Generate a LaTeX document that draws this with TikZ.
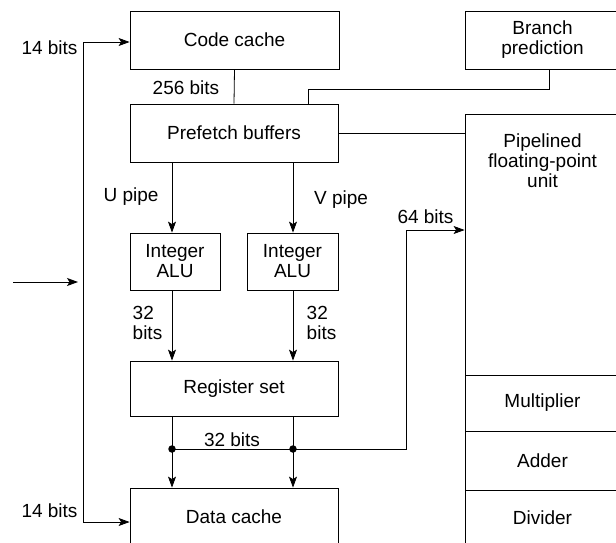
\documentclass[tikz,border=0pt]{standalone}
\usepackage{fontspec}
\setmainfont{Liberation Sans}
\usetikzlibrary{arrows.meta,positioning,calc}

\begin{document}
\begin{tikzpicture}[
  x=1pt, y=-1pt,
  line width=0.8pt,
  font=\fontsize{19}{20}\selectfont,
  blk/.style={draw, inner sep=0pt, align=center},
  arr/.style={-{Stealth[length=11pt,width=8pt,inset=2.5pt]}},
  lbl/.style={inner sep=0pt, align=left},
  dot/.style={circle, fill, inner sep=0pt, minimum size=7.5pt}
]
\useasboundingbox (0,0) rectangle (616,542);
\clip (0,0) rectangle (616,542);

% boxes of the pipeline
\node[blk, minimum width=209pt, minimum height=58pt] (cc) at (234.5,40) {Code cache};
\node[blk, minimum width=155pt, minimum height=58pt] (bp) at (542.5,40) {Branch\\prediction};
\node[blk, minimum width=208pt, minimum height=58pt] (pf) at (234,133) {Prefetch buffers};
\node[blk, minimum width=90pt, minimum height=57pt] (alu1) at (175,261.5) {Integer\\ALU};
\node[blk, minimum width=91pt, minimum height=57pt] (alu2) at (292.5,261.5) {Integer\\ALU};
\node[blk, minimum width=208pt, minimum height=55pt] (rs) at (234,388.5) {Register set};
\node[blk, minimum width=208pt, minimum height=57pt] (dc) at (234,516.5) {Data cache};

% floating-point unit
\node[blk, minimum width=155pt, minimum height=261pt] (fpu) at (542.5,244.5) {};
\node[lbl, align=center, anchor=north] (fputxt) at ([yshift=-20pt]fpu.north) {Pipelined\\floating-point\\unit};
\node[blk, minimum width=155pt, minimum height=56pt] (mul) at (542.5,403) {Multiplier};
\node[blk, minimum width=155pt, minimum height=59pt] (add) at (542.5,460.5) {Adder};
\node[blk, minimum width=155pt, minimum height=55pt] (div) at (542.5,517.5) {Divider};

% routing points
\coordinate (u) at (172,0);
\coordinate (v) at (293,0);
\coordinate (brk) at (549,89);
\coordinate (brk2) at (308,89);
\coordinate (lt) at (83,42);
\coordinate (lb) at (83,522);
\coordinate (b64) at (406,230);
\coordinate (in0) at (13,282);
\coordinate (in1) at (78,282);
\node[dot] (du) at (172,449) {};
\node[dot] (dv) at (293,449) {};

% connectors
\draw (cc.south) -- (pf.north);
\draw (bp.south -| brk) -- (brk) -- (brk2) -- (pf.north -| brk2);
\draw (pf.east) -- (pf.east -| fpu.west);
\draw[arr] (pf.south -| u) -- (alu1.north -| u);
\draw[arr] (pf.south -| v) -- (alu2.north -| v);
\draw[arr] (alu1.south -| u) -- (rs.north -| u);
\draw[arr] (alu2.south -| v) -- (rs.north -| v);
\draw[arr] (rs.south -| u) -- (dc.north -| u);
\draw[arr] (rs.south -| v) -- (dc.north -| v);
\draw[arr] (du.center) -| (b64) -- (b64 -| fpu.west);
\draw[{Stealth[length=11pt,width=8pt,inset=2.5pt]}-{Stealth[length=11pt,width=8pt,inset=2.5pt]}]
  (cc.west |- lt) -- (lt) -- (lb) -- (dc.west |- lb);
\draw[arr] (in0) -- (in1);

% labels
\node[lbl] (l256) at (186,88) {256 bits};
\node[lbl] (lu) at (131,197) {U pipe};
\node[lbl] (lv) at (341,200) {V pipe};
\node[lbl] (l32a) at (147.5,323) {32\\bits};
\node[lbl] (l32b) at (321.5,323) {32\\bits};
\node[lbl] (l32c) at (232,440) {32 bits};
\node[lbl] (l64) at (425.5,217) {64 bits};
\node[lbl] (l14a) at (49.5,48) {14 bits};
\node[lbl] (l14b) at (49.5,511) {14 bits};
\end{tikzpicture}
\end{document}
